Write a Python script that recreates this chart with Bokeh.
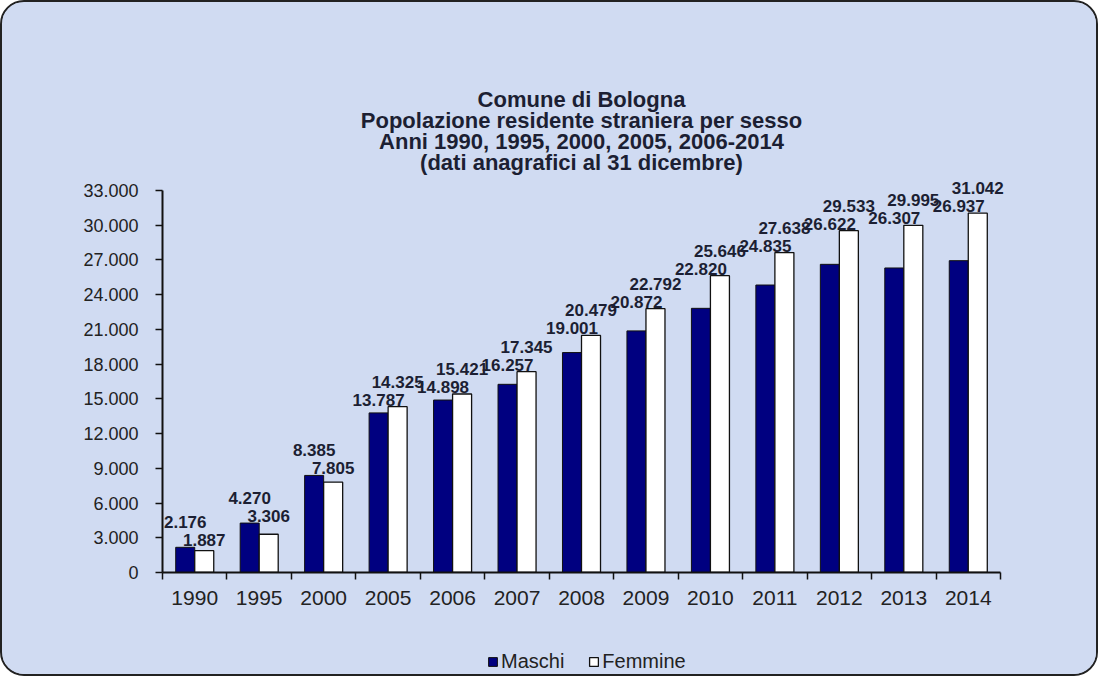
import numpy as np
from bokeh.plotting import figure
from bokeh.layouts import column
from bokeh.models import ColumnDataSource, Range1d, FixedTicker, Legend, LegendItem, Label
from bokeh.core.properties import value
from bokeh.embed import file_html
from bokeh.resources import INLINE

# ---------------- data ----------------
years = ["1990", "1995", "2000", "2005", "2006", "2007", "2008",
         "2009", "2010", "2011", "2012", "2013", "2014"]
maschi = [2176, 4270, 8385, 13787, 14898, 16257, 19001,
          20872, 22820, 24835, 26622, 26307, 26937]
femmine = [1887, 3306, 7805, 14325, 15421, 17345, 20479,
           22792, 25646, 27638, 29533, 29995, 31042]
series_names = ["Maschi", "Femmine"]
y_ticks = [0, 3000, 6000, 9000, 12000, 15000, 18000, 21000, 24000, 27000, 30000, 33000]
y_tick_labels = ["0", "3.000", "6.000", "9.000", "12.000", "15.000", "18.000",
                 "21.000", "24.000", "27.000", "30.000", "33.000"]
title_lines = ["Comune di Bologna",
               "Popolazione residente straniera per sesso",
               "Anni 1990, 1995, 2000, 2005, 2006-2014",
               "(dati anagrafici al 31 dicembre)"]

FONT = "Liberation Sans"
BG = "#d0dbf2"
TXT = "#1c1f33"
M_COL = "#000080"

# ---------------- geometry ----------------
W, H_MAIN, H_LEG = 1094, 620, 52
BL, BR, BT, BB = 160, 30, 10, 50
FW = W - BL - BR
FH = H_MAIN - BT - BB
AXIS_PX = 382                      # pixel height of the 0..33000 axis
AXIS_W = 838                       # pixel width of the category axis
y_end = y_ticks[-1] * FH / AXIS_PX  # room above the axis for the title
n = len(years)
x_end = n * FW / AXIS_W             # room right of the axis for the last labels

def fmt(v):
    return f"{v:,}".replace(",", ".")

centers = np.arange(n) + 0.5
bw = 0.295
xm = centers - bw / 2
xf = centers + bw / 2

src = ColumnDataSource(dict(xm=xm, xf=xf, m=maschi, f=femmine))

p = figure(width=W, height=H_MAIN, output_backend="svg", toolbar_location=None,
           x_range=Range1d(0, x_end), y_range=Range1d(0, y_end),
           min_border_left=BL, min_border_right=BR,
           min_border_top=BT, min_border_bottom=BB)
p.background_fill_color = BG
p.border_fill_color = BG
p.outline_line_color = None
p.grid.grid_line_color = None

r_m = p.vbar(x="xm", top="m", width=bw, source=src, fill_color=M_COL, line_color="#111111", line_width=1)
r_f = p.vbar(x="xf", top="f", width=bw, source=src, fill_color="#ffffff", line_color="#111111", line_width=1.3)

# data labels: both stacked above the taller bar of each pair
tops = np.maximum(maschi, femmine)
up_x, up_y, up_t, lo_x, lo_y, lo_t = [], [], [], [], [], []
for i in range(n):
    mv, fv = maschi[i], femmine[i]
    if mv >= fv:
        up_x.append(xm[i]); up_t.append(fmt(mv))
        lo_x.append(xf[i]); lo_t.append(fmt(fv))
    else:
        up_x.append(xf[i]); up_t.append(fmt(fv))
        lo_x.append(xm[i]); lo_t.append(fmt(mv))
    up_y.append(tops[i]); lo_y.append(tops[i])

for xs, ys, ts, off in [(up_x, up_y, up_t, -25), (lo_x, lo_y, lo_t, -7)]:
    p.text(x=xs, y=ys, text=ts, text_align="center", text_baseline="alphabetic",
           y_offset=off, text_font=value(FONT), text_font_size="17px",
           text_font_style="bold", text_color=TXT)

# axes
xa = p.xaxis[0]
xa.ticker = FixedTicker(ticks=list(centers), minor_ticks=list(range(n + 1)))
xa.major_label_overrides = {float(c): y for c, y in zip(centers, years)}
xa.bounds = (0, n)
xa.major_tick_out = 0
xa.major_tick_in = 0
xa.minor_tick_out = 7
xa.minor_tick_in = 0
xa.minor_tick_line_color = "#111111"
xa.minor_tick_line_width = 1.5
xa.axis_line_color = "#111111"
xa.axis_line_width = 2
xa.major_label_text_font = FONT
xa.major_label_text_font_size = "21px"
xa.major_label_text_color = "#222222"
xa.major_label_standoff = 11

ya = p.yaxis[0]
ya.ticker = FixedTicker(ticks=y_ticks, minor_ticks=[])
ya.major_label_overrides = {t: l for t, l in zip(y_ticks, y_tick_labels)}
ya.bounds = (0, y_ticks[-1])
ya.major_tick_out = 7
ya.major_tick_in = 0
ya.major_tick_line_color = "#111111"
ya.major_tick_line_width = 1.5
ya.minor_tick_line_color = None
ya.axis_line_color = "#111111"
ya.axis_line_width = 2
ya.major_label_text_font = FONT
ya.major_label_text_font_size = "18px"
ya.major_label_text_color = "#222222"
ya.major_label_standoff = 17

# title lines (screen units from the frame's bottom-left, inside the frame)
for k, line in enumerate(title_lines):
    p.add_layout(Label(x=AXIS_W / 2, y=473 - 21 * k, x_units="screen", y_units="screen",
                       text=line, text_align="center", text_baseline="middle",
                       text_font=FONT, text_font_size="22px", text_font_style="bold",
                       text_color=TXT))

# ---------------- legend strip ----------------
lf = figure(width=W, height=H_LEG, output_backend="svg", toolbar_location=None,
            x_range=Range1d(0, x_end), y_range=Range1d(-2, -1),
            x_axis_location=None, y_axis_location=None, min_border=0)
lf.background_fill_color = BG
lf.border_fill_color = BG
lf.outline_line_color = None
lf.grid.grid_line_color = None
# swatch renderers: same series, hidden (only their legend swatches are drawn)
lm = lf.vbar(x=xm, top=maschi, width=bw, fill_color=M_COL, line_color="#111111", line_width=1)
lw = lf.vbar(x=xf, top=femmine, width=bw, fill_color="#ffffff", line_color="#111111", line_width=1.3)
lm.visible = False
lw.visible = False
leg = Legend(items=[LegendItem(label=series_names[0], renderers=[lm]),
                    LegendItem(label=series_names[1], renderers=[lw])],
             orientation="horizontal", location=(485 - BL, 1),
             glyph_width=11, glyph_height=11, label_standoff=3, spacing=24,
             label_text_font=FONT, label_text_font_size="20px", label_text_color="#222222",
             background_fill_alpha=0, border_line_color=None, margin=0, padding=0)
lf.add_layout(leg, "center")

layout = column(p, lf, spacing=0,
                styles={"border": "2px solid #222", "border-radius": "24px",
                        "overflow": "hidden", "background-color": BG})

open("out.html", "w").write(file_html(layout, INLINE))
